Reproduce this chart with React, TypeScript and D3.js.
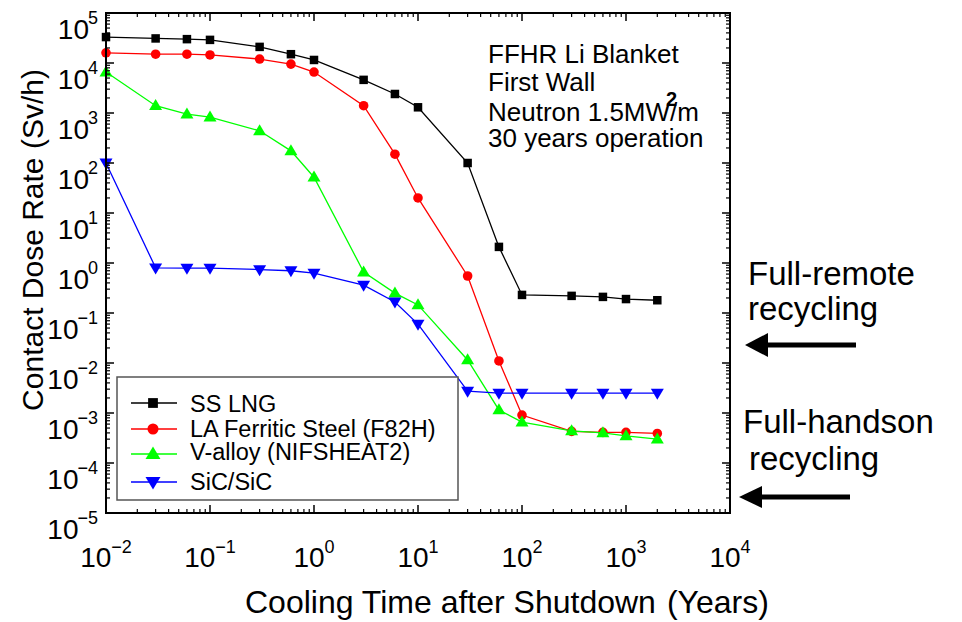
import React from "react";
import * as d3 from "d3";

const xTimes = [0.01, 0.03, 0.06, 0.1, 0.3, 0.6, 1, 3, 6, 10, 30, 60, 100, 300, 600, 1000, 2000];
const ssLng = [3.3e4, 3.1e4, 3.0e4, 2.9e4, 2.1e4, 1.5e4, 1.15e4, 4.6e3, 2.4e3, 1.3e3, 100, 2.1, 0.23, 0.22, 0.21, 0.19, 0.18];
const f82h = [1.6e4, 1.5e4, 1.5e4, 1.45e4, 1.2e4, 9.5e3, 6.6e3, 1.4e3, 150, 20, 0.55, 0.011, 9.1e-4, 4.3e-4, 4.1e-4, 4.1e-4, 3.9e-4];
const vAlloy = [6.6e3, 1.4e3, 950, 830, 440, 175, 52, 0.66, 0.25, 0.145, 0.0115, 1.15e-3, 6.6e-4, 4.4e-4, 4.0e-4, 3.5e-4, 3.0e-4];
const sic = [100, 0.8, 0.79, 0.79, 0.74, 0.7, 0.63, 0.36, 0.166, 0.06, 2.75e-3, 2.5e-3, 2.5e-3, 2.5e-3, 2.5e-3, 2.5e-3, 2.5e-3];

const seriesNames = ["SS LNG", "LA Ferritic Steel (F82H)", "V-alloy (NIFSHEAT2)", "SiC/SiC"];
const seriesColors = ["#000000", "#ff0000", "#00ff00", "#0000ff"];
const seriesShapes = ["square", "circle", "up", "down"];
const seriesValues = [ssLng, f82h, vAlloy, sic];

const xExps = [-2, -1, 0, 1, 2, 3, 4];
const yExps = [-5, -4, -3, -2, -1, 0, 1, 2, 3, 4, 5];

const infoLines = ["FFHR Li Blanket", "First Wall", "Neutron 1.5MW/m", "30 years operation"];

const FONT = "'Liberation Sans', Arial, Helvetica, sans-serif";

function Marker({ shape, x, y, color, s }: { shape: string; x: number; y: number; color: string; s: number }) {
  if (shape === "square") {
    const a = 8.5 * s;
    return <rect x={x - a / 2} y={y - a / 2} width={a} height={a} fill={color} />;
  }
  if (shape === "circle") {
    return <circle cx={x} cy={y} r={4.8 * s} fill={color} />;
  }
  const w = 13 * s;
  const h = 11 * s;
  if (shape === "up") {
    return <path d={`M${x},${y - h * 0.6} L${x + w / 2},${y + h * 0.4} L${x - w / 2},${y + h * 0.4} Z`} fill={color} />;
  }
  return <path d={`M${x},${y + h * 0.6} L${x + w / 2},${y - h * 0.4} L${x - w / 2},${y - h * 0.4} Z`} fill={color} />;
}

export default function App() {
  const left = 106, right = 730, top = 13, bottom = 513;
  const x = d3.scaleLog().domain([1e-2, 1e4]).range([left, right]);
  const y = d3.scaleLog().domain([1e-5, 1e5]).range([bottom, top]);

  const xMinor: number[] = [];
  for (let e = -2; e < 4; e++) for (let m = 2; m <= 9; m++) xMinor.push(m * Math.pow(10, e));
  const yMinor: number[] = [];
  for (let e = -5; e < 5; e++) for (let m = 2; m <= 9; m++) yMinor.push(m * Math.pow(10, e));

  const line = d3
    .line<number>()
    .x((_, i) => x(xTimes[i]))
    .y((d) => y(d));

  const major = 8, minor = 4;

  const legendRows = [403, 429, 454, 482];
  const legendBase = [412, 437, 460, 490];

  return (
    <svg
      width={962}
      height={622}
      style={{ position: "absolute", left: 0, top: 0, background: "#fff" }}
      fontFamily={FONT}
    >
      <rect x={0} y={0} width={962} height={622} fill="#fff" />
      {/* series */}
      {seriesValues.map((vals, si) => (
        <g key={si}>
          <path d={line(vals) || ""} fill="none" stroke={seriesColors[si]} strokeWidth={1.3} />
          {vals.map((v, i) => (
            <Marker key={i} shape={seriesShapes[si]} x={x(xTimes[i])} y={y(v)} color={seriesColors[si]} s={1} />
          ))}
        </g>
      ))}

      {/* frame & ticks */}
      <rect x={left} y={top} width={right - left} height={bottom - top} fill="none" stroke="#000" strokeWidth={2} />
      {xExps.map((e) => {
        const px = x(Math.pow(10, e));
        return (
          <g key={"xM" + e}>
            <line x1={px} x2={px} y1={bottom} y2={bottom - major} stroke="#000" strokeWidth={1.5} />
            <line x1={px} x2={px} y1={top} y2={top + major} stroke="#000" strokeWidth={1.5} />
          </g>
        );
      })}
      {xMinor.map((v, i) => {
        const px = x(v);
        return (
          <g key={"xm" + i}>
            <line x1={px} x2={px} y1={bottom} y2={bottom - minor} stroke="#000" strokeWidth={1.2} />
            <line x1={px} x2={px} y1={top} y2={top + minor} stroke="#000" strokeWidth={1.2} />
          </g>
        );
      })}
      {yExps.map((e) => {
        const py = y(Math.pow(10, e));
        return (
          <g key={"yM" + e}>
            <line x1={left} x2={left + major} y1={py} y2={py} stroke="#000" strokeWidth={1.5} />
            <line x1={right} x2={right - major} y1={py} y2={py} stroke="#000" strokeWidth={1.5} />
          </g>
        );
      })}
      {yMinor.map((v, i) => {
        const py = y(v);
        return (
          <g key={"ym" + i}>
            <line x1={left} x2={left + minor} y1={py} y2={py} stroke="#000" strokeWidth={1.2} />
            <line x1={right} x2={right - minor} y1={py} y2={py} stroke="#000" strokeWidth={1.2} />
          </g>
        );
      })}

      {/* tick labels */}
      {xExps.map((e) => (
        <text key={"xl" + e} x={x(Math.pow(10, e))} y={567} textAnchor="middle" fontSize={28} fill="#000">
          <tspan>10</tspan>
          <tspan fontSize={18} dy={-14} dx={0}>
            {e < 0 ? "\u2212" + Math.abs(e) : String(e)}
          </tspan>
        </text>
      ))}
      {yExps.map((e) => (
        <text key={"yl" + e} x={98} y={y(Math.pow(10, e)) + 26} textAnchor="end" fontSize={28} fill="#000">
          <tspan>10</tspan>
          <tspan fontSize={18} dy={-15} dx={-1}>
            {e < 0 ? "\u2212" + Math.abs(e) : String(e)}
          </tspan>
        </text>
      ))}

      {/* axis titles */}
      <text transform="translate(43,240) rotate(-90)" textAnchor="middle" fontSize={30} fill="#000">
        Contact Dose Rate (Sv/h)
      </text>
      <text x={245} y={613} fontSize={32} fill="#000">
        <tspan>Cooling Time after Shutdown</tspan>
        <tspan dx={11}>(Years)</tspan>
      </text>

      {/* info text */}
      {infoLines.map((t, i) => (
        <text key={"info" + i} x={488} y={[63, 91, 121, 147][i]} fontSize={26} fill="#000">
          {t}
        </text>
      ))}
      <text x={666} y={106} fontSize={20} fontWeight="bold" fill="#000">
        2
      </text>

      {/* legend */}
      <rect x={117} y={377} width={341} height={123} fill="#fff" stroke="#555" strokeWidth={1.5} />
      {seriesNames.map((n, i) => (
        <g key={"lg" + i}>
          <line x1={131} x2={177} y1={legendRows[i]} y2={legendRows[i]} stroke={seriesColors[i]} strokeWidth={1.3} />
          <Marker shape={seriesShapes[i]} x={153} y={legendRows[i]} color={seriesColors[i]} s={1.15} />
          <text x={190} y={legendBase[i]} fontSize={23.5} fill="#000">
            {n}
          </text>
        </g>
      ))}

      {/* right-side annotations */}
      <text x={748} y={285} fontSize={33} fill="#000">Full-remote</text>
      <text x={748} y={320} fontSize={33} fill="#000">recycling</text>
      <text x={743} y={433} fontSize={33} fill="#000">Full-handson</text>
      <text x={749} y={470} fontSize={33} fill="#000">recycling</text>
      <line x1={764} x2={856} y1={345} y2={345} stroke="#000" strokeWidth={5} />
      <path d="M745,345 L768,333 L768,357 Z" fill="#000" />
      <line x1={758} x2={850} y1={497} y2={497} stroke="#000" strokeWidth={5} />
      <path d="M739,497 L762,486 L762,508 Z" fill="#000" />
    </svg>
  );
}
